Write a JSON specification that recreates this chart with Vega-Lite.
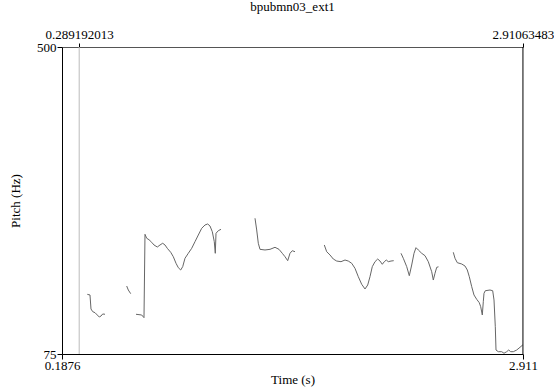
{
  "$schema": "https://vega.github.io/schema/vega-lite/v6.json",
  "width": 461,
  "height": 307,
  "autosize": {"type": "none"},
  "padding": {"left": 62, "top": 47, "right": 31, "bottom": 33},
  "background": "white",
  "title": {"text": "bpubmn03_ext1", "font": "Liberation Serif, Times New Roman, serif", "fontSize": 13, "fontWeight": "normal", "color": "black", "anchor": "middle", "offset": 14},
  "config": {
    "view": {"stroke": null},
    "axis": {
      "labelFont": "Liberation Serif, Times New Roman, serif", "labelFontSize": 13, "labelColor": "black",
      "titleFont": "Liberation Serif, Times New Roman, serif", "titleFontSize": 13, "titleColor": "black", "titleFontWeight": "normal",
      "grid": false, "tickColor": "black", "domainColor": "black", "labelFlush": false, "labelOverlap": false
    }
  },
  "layer": [
    {
      "data": {"values": [
        {"seg": 1, "t": 0.3371, "f": 157.6}, {"seg": 1, "t": 0.3530, "f": 156.7}, {"seg": 1, "t": 0.3589, "f": 137.3},
        {"seg": 1, "t": 0.3690, "f": 133.6}, {"seg": 1, "t": 0.3826, "f": 132.2}, {"seg": 1, "t": 0.3961, "f": 129.0},
        {"seg": 1, "t": 0.4080, "f": 126.2}, {"seg": 1, "t": 0.4180, "f": 127.6}, {"seg": 1, "t": 0.4280, "f": 130.4},
        {"seg": 1, "t": 0.4416, "f": 130.0},
        {"seg": 2, "t": 0.5698, "f": 169.1}, {"seg": 2, "t": 0.5793, "f": 163.6}, {"seg": 2, "t": 0.5935, "f": 158.5},
        {"seg": 3, "t": 0.6248, "f": 130.0}, {"seg": 3, "t": 0.6584, "f": 129.0}, {"seg": 3, "t": 0.6720, "f": 125.3},
        {"seg": 3, "t": 0.6779, "f": 240.7}, {"seg": 3, "t": 0.6880, "f": 235.2}, {"seg": 3, "t": 0.7016, "f": 233.2},
        {"seg": 3, "t": 0.7175, "f": 229.6}, {"seg": 3, "t": 0.7311, "f": 225.9}, {"seg": 3, "t": 0.7506, "f": 223.1},
        {"seg": 3, "t": 0.7665, "f": 225.9}, {"seg": 3, "t": 0.7825, "f": 228.3}, {"seg": 3, "t": 0.7961, "f": 225.9},
        {"seg": 3, "t": 0.8097, "f": 221.3}, {"seg": 3, "t": 0.8298, "f": 215.8}, {"seg": 3, "t": 0.8451, "f": 209.7},
        {"seg": 3, "t": 0.8611, "f": 200.6}, {"seg": 3, "t": 0.8747, "f": 194.5}, {"seg": 3, "t": 0.8888, "f": 191.3},
        {"seg": 3, "t": 0.9007, "f": 195.9}, {"seg": 3, "t": 0.9142, "f": 207.5}, {"seg": 3, "t": 0.9337, "f": 214.4},
        {"seg": 3, "t": 0.9538, "f": 221.3}, {"seg": 3, "t": 0.9733, "f": 230.5}, {"seg": 3, "t": 0.9928, "f": 239.7},
        {"seg": 3, "t": 1.0129, "f": 249.0}, {"seg": 3, "t": 1.0324, "f": 253.6}, {"seg": 3, "t": 1.0483, "f": 255.0},
        {"seg": 3, "t": 1.0619, "f": 252.2}, {"seg": 3, "t": 1.0755, "f": 244.3}, {"seg": 3, "t": 1.0873, "f": 230.5},
        {"seg": 3, "t": 1.0932, "f": 214.4}, {"seg": 3, "t": 1.0974, "f": 242.1}, {"seg": 3, "t": 1.1110, "f": 245.7},
        {"seg": 3, "t": 1.1269, "f": 247.6},
        {"seg": 4, "t": 1.3278, "f": 262.9}, {"seg": 4, "t": 1.3378, "f": 246.7}, {"seg": 4, "t": 1.3473, "f": 228.3},
        {"seg": 4, "t": 1.3573, "f": 219.9}, {"seg": 4, "t": 1.3868, "f": 219.0}, {"seg": 4, "t": 1.4164, "f": 219.9},
        {"seg": 4, "t": 1.4459, "f": 222.7}, {"seg": 4, "t": 1.4696, "f": 219.9}, {"seg": 4, "t": 1.4890, "f": 214.4},
        {"seg": 4, "t": 1.5050, "f": 209.7}, {"seg": 4, "t": 1.5209, "f": 204.2}, {"seg": 4, "t": 1.5345, "f": 214.4},
        {"seg": 4, "t": 1.5481, "f": 218.0}, {"seg": 4, "t": 1.5641, "f": 216.6},
        {"seg": 5, "t": 1.7372, "f": 225.9}, {"seg": 5, "t": 1.7513, "f": 216.6}, {"seg": 5, "t": 1.7708, "f": 212.1},
        {"seg": 5, "t": 1.7903, "f": 206.5}, {"seg": 5, "t": 1.8104, "f": 203.7}, {"seg": 5, "t": 1.8358, "f": 202.8},
        {"seg": 5, "t": 1.8595, "f": 205.1}, {"seg": 5, "t": 1.8789, "f": 203.7}, {"seg": 5, "t": 1.8990, "f": 200.6},
        {"seg": 5, "t": 1.9185, "f": 193.6}, {"seg": 5, "t": 1.9380, "f": 182.0}, {"seg": 5, "t": 1.9581, "f": 171.5},
        {"seg": 5, "t": 1.9776, "f": 165.0}, {"seg": 5, "t": 1.9936, "f": 170.5}, {"seg": 5, "t": 2.0071, "f": 182.0},
        {"seg": 5, "t": 2.0207, "f": 195.9}, {"seg": 5, "t": 2.0367, "f": 202.8}, {"seg": 5, "t": 2.0526, "f": 206.5},
        {"seg": 5, "t": 2.0662, "f": 203.7}, {"seg": 5, "t": 2.0798, "f": 199.2}, {"seg": 5, "t": 2.0916, "f": 202.8},
        {"seg": 5, "t": 2.1034, "f": 205.1}, {"seg": 5, "t": 2.1153, "f": 202.8}, {"seg": 5, "t": 2.1312, "f": 203.7},
        {"seg": 5, "t": 2.1472, "f": 204.2},
        {"seg": 6, "t": 2.1903, "f": 214.4}, {"seg": 6, "t": 2.2039, "f": 207.5}, {"seg": 6, "t": 2.2240, "f": 195.9},
        {"seg": 6, "t": 2.2393, "f": 183.4}, {"seg": 6, "t": 2.2535, "f": 198.2}, {"seg": 6, "t": 2.2671, "f": 214.4},
        {"seg": 6, "t": 2.2789, "f": 222.2}, {"seg": 6, "t": 2.2925, "f": 219.0}, {"seg": 6, "t": 2.3126, "f": 214.4},
        {"seg": 6, "t": 2.3321, "f": 211.1}, {"seg": 6, "t": 2.3516, "f": 202.8}, {"seg": 6, "t": 2.3716, "f": 188.9},
        {"seg": 6, "t": 2.3811, "f": 177.4}, {"seg": 6, "t": 2.3911, "f": 186.7}, {"seg": 6, "t": 2.4012, "f": 195.0},
        {"seg": 6, "t": 2.4118, "f": 195.7},
        {"seg": 7, "t": 2.4992, "f": 215.8}, {"seg": 7, "t": 2.5093, "f": 207.5}, {"seg": 7, "t": 2.5229, "f": 201.4},
        {"seg": 7, "t": 2.5489, "f": 199.6}, {"seg": 7, "t": 2.5684, "f": 196.8}, {"seg": 7, "t": 2.5820, "f": 191.3},
        {"seg": 7, "t": 2.5938, "f": 182.0}, {"seg": 7, "t": 2.6080, "f": 168.2}, {"seg": 7, "t": 2.6215, "f": 156.7},
        {"seg": 7, "t": 2.6375, "f": 150.7}, {"seg": 7, "t": 2.6528, "f": 146.0}, {"seg": 7, "t": 2.6611, "f": 140.5},
        {"seg": 7, "t": 2.6706, "f": 129.0}, {"seg": 7, "t": 2.6765, "f": 147.4}, {"seg": 7, "t": 2.6806, "f": 159.0},
        {"seg": 7, "t": 2.6883, "f": 162.6}, {"seg": 7, "t": 2.7161, "f": 163.6}, {"seg": 7, "t": 2.7320, "f": 162.6},
        {"seg": 7, "t": 2.7397, "f": 149.8}, {"seg": 7, "t": 2.7474, "f": 112.8}, {"seg": 7, "t": 2.7515, "f": 80.5},
        {"seg": 7, "t": 2.7651, "f": 78.2}, {"seg": 7, "t": 2.7852, "f": 78.2}, {"seg": 7, "t": 2.7988, "f": 76.0},
        {"seg": 7, "t": 2.8147, "f": 78.2}, {"seg": 7, "t": 2.8265, "f": 80.5}, {"seg": 7, "t": 2.8383, "f": 78.2},
        {"seg": 7, "t": 2.8537, "f": 78.2}, {"seg": 7, "t": 2.8738, "f": 80.5}, {"seg": 7, "t": 2.8933, "f": 84.3},
        {"seg": 7, "t": 2.9092, "f": 87.5}
      ]},
      "mark": {"type": "line", "color": "#666666", "strokeWidth": 1, "interpolate": "linear"},
      "encoding": {
        "x": {"field": "t", "type": "quantitative",
              "scale": {"domain": [0.1876, 2.911], "nice": false, "zero": false},
              "axis": {"orient": "bottom", "values": [0.1876, 2.911], "format": ".4~f", "title": "Time (s)",
                       "tickSize": 5, "labelPadding": 0, "titlePadding": 1}},
        "y": {"field": "f", "type": "quantitative",
              "scale": {"domain": [75, 500], "nice": false, "zero": false},
              "axis": {"orient": "left", "values": [75, 500], "title": "Pitch (Hz)",
                       "tickSize": 5, "labelPadding": 1, "titlePadding": 14, "labelBaseline": "middle"}},
        "detail": {"field": "seg", "type": "nominal"}
      }
    },
    {
      "data": {"values": [{"t": 0.289192013}]},
      "mark": {"type": "rule", "color": "#bbbbbb", "strokeWidth": 1},
      "encoding": {
        "x": {"field": "t", "type": "quantitative",
              "axis": {"orient": "top", "values": [0.289192013, 2.91063483], "format": ".9~f", "title": null,
                       "tickSize": 4, "labelPadding": 2, "domainColor": "#555555"}}
      }
    },
    {
      "data": {"values": [{"t": 2.91063483}]},
      "mark": {"type": "rule", "color": "black", "strokeWidth": 1},
      "encoding": {
        "x": {"field": "t", "type": "quantitative", "axis": null}
      }
    }
  ],
  "resolve": {"axis": {"x": "independent"}}
}
